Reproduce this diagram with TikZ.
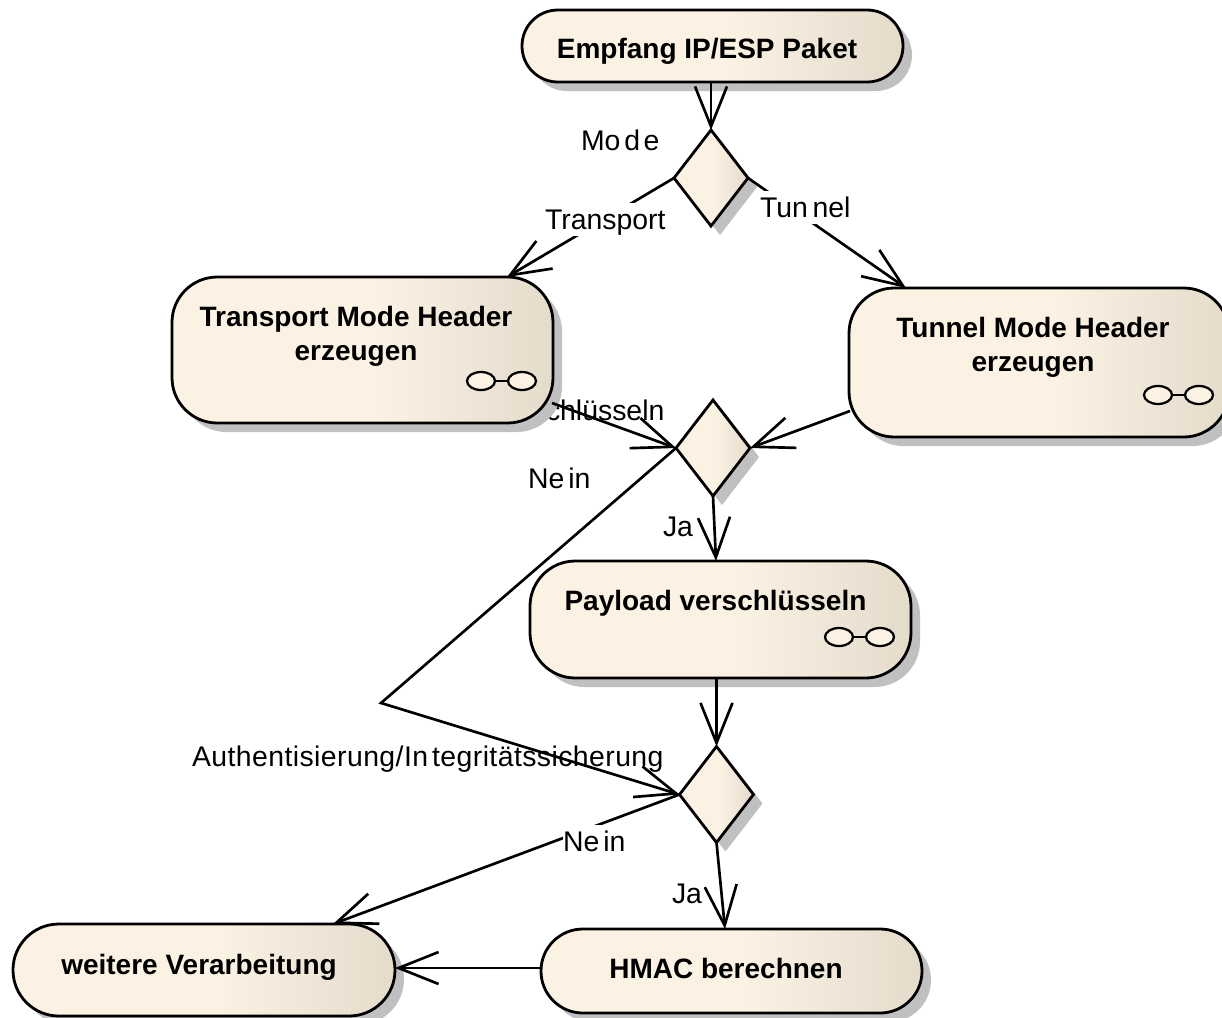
\documentclass[tikz,border=0pt]{standalone}
\usepackage{fontspec}
\setmainfont{Liberation Sans}
\usetikzlibrary{arrows.meta,calc,shadows,shapes.geometric}
\definecolor{actL}{HTML}{FBF2E4}
\definecolor{actR}{HTML}{E4DBCB}
\definecolor{shadowgray}{HTML}{C0C0C0}
\pgfdeclarehorizontalshading{actshade}{100bp}{color(0bp)=(actL);color(25bp)=(actL);color(52bp)=(actL);color(75bp)=(actR);color(100bp)=(actR)}
\tikzset{
  boxsize/.style 2 args={minimum width=#1*0.75pt,minimum height=#2*0.75pt},
  flowshadow/.style={drop shadow={shadow xshift=6.75pt,shadow yshift=-6.75pt,fill=shadowgray,opacity=1}},
  actbox/.style={rectangle,draw=black,line width=2.1pt,shading=actshade,flowshadow,inner sep=0pt,outer sep=0pt},
  choice/.style={diamond,aspect=0.77,draw=black,line width=2.1pt,shading=actshade,flowshadow,inner sep=0pt,outer sep=0pt,boxsize={74}{96}},
  boldtxt/.style={inner sep=0pt,outer sep=0pt,align=center,font=\bfseries\fontsize{21}{25.5}\selectfont},
  lbl/.style={inner sep=0pt,outer sep=0pt,anchor=base west,font=\fontsize{21.3}{25}\selectfont},
  lblw/.style={lbl,fill=white,text height=19.5pt,text depth=5pt},
  lens/.style={ellipse,draw=black,line width=1.7pt,fill=actL,inner sep=0pt,outer sep=0pt,boxsize={28}{18}},
  lensbar/.style={line width=1.7pt},
  flow/.style={line width=2pt,-{Straight Barb[length=30pt,width=24pt,line width=2pt]}}
}
\begin{document}
\begin{tikzpicture}[x=0.75pt,y=-0.75pt]
\path[use as bounding box] (0,0) rectangle (1222,1018);
% label partly hidden by the box
\node[lbl] (lv) at (546,420) {chlüsseln};
% activities
\node[actbox,boxsize={381}{72},rounded corners=26.9pt] (e) at (712.5,46) {};
\node[actbox,boxsize={381}{146},rounded corners=34pt] (tm) at (362.5,350) {};
\node[actbox,boxsize={380}{149},rounded corners=34pt] (um) at (1039,362.5) {};
\node[actbox,boxsize={381}{117},rounded corners=34pt] (p) at (720.5,619.5) {};
\node[actbox,boxsize={381}{84},rounded corners=31.4pt] (h) at (731.5,971) {};
\node[actbox,boxsize={382}{92},rounded corners=34.4pt] (w) at (204,970) {};
% decisions
\node[choice] (d1) at (711,178) {};
\node[choice] (d2) at (713,448) {};
\node[choice] (d3) at (716.5,794.5) {};
% activity texts
\node[boldtxt,anchor=base] (te) at (707,58) {Empfang IP/ESP Paket};
\node[boldtxt] (ttm) at (356,336) {Transport Mode Header\\erzeugen};
\node[boldtxt] (tum) at (1033,347) {Tunnel Mode Header\\erzeugen};
\node[boldtxt,anchor=base] (tp) at (715.5,610) {Payload verschlüsseln};
\node[boldtxt,anchor=base] (th) at (726,978) {HMAC berechnen};
\node[boldtxt,anchor=base] (tw) at (199,974) {weitere Verarbeitung};
% sub-activity icons
\node[lens] (i1a) at (481,381) {};
\node[lens] (i1b) at (522,381) {};
\draw[lensbar] (i1a) -- (i1b);
\node[lens] (i2a) at (1158,395) {};
\node[lens] (i2b) at (1199,395) {};
\draw[lensbar] (i2a) -- (i2b);
\node[lens] (i3a) at (839,637) {};
\node[lens] (i3b) at (880,637) {};
\draw[lensbar] (i3a) -- (i3b);
% connectors interrupted by their labels
\draw[flow] (d1.west) -- ($(tm.north)+(144.5,0)$);
\draw[flow] (d1.east) -- ($(um.north)+(-133,0)$);
\draw[flow] (d3.west) -- ($(w.north)+(129,0)$);
\node[lblw] (lt) at (545,229) {Transport};
\node[lblw] (lu) at (760,217) {Tun\kern3.5pt nel};
\node[lblw] (ln2) at (563,851) {Ne\kern3pt in};
% other labels
\node[lbl] (lm) at (581,150) {Mo\kern3pt d\kern2.5pt e};
\node[lbl] (ln1) at (528,488) {Ne\kern3pt in};
\node[lbl] (lj1) at (663,536) {Ja};
\node[lbl] (lj2) at (672,903) {Ja};
\node[lbl] (la) at (192,766) {\addfontfeature{LetterSpace=1.5}Authentisierung/In\kern3pt tegritätssicherung};
% remaining connectors
\coordinate (nb) at (381,703);
\draw[flow] (e.south -| d1.north) -- (d1.north);
\draw[flow] ($(tm.east)+(-1,53)$) -- (d2.west);
\draw[flow] ($(um.west)+(1,48.5)$) -- (d2.east);
\draw[flow] (d2.west) -- (nb) -- (d3.west);
\draw[flow] (d2.south) -- ($(p.north)+(-4.5,0)$);
\draw[flow] (d3.north |- p.south) -- (d3.north);
\draw[flow] (d3.south) -- ($(h.north)+(-6.5,0)$);
\draw[flow] ($(h.west)+(0,-3)$) -- ($(w.east)+(0,-2)$);
\end{tikzpicture}
\end{document}
